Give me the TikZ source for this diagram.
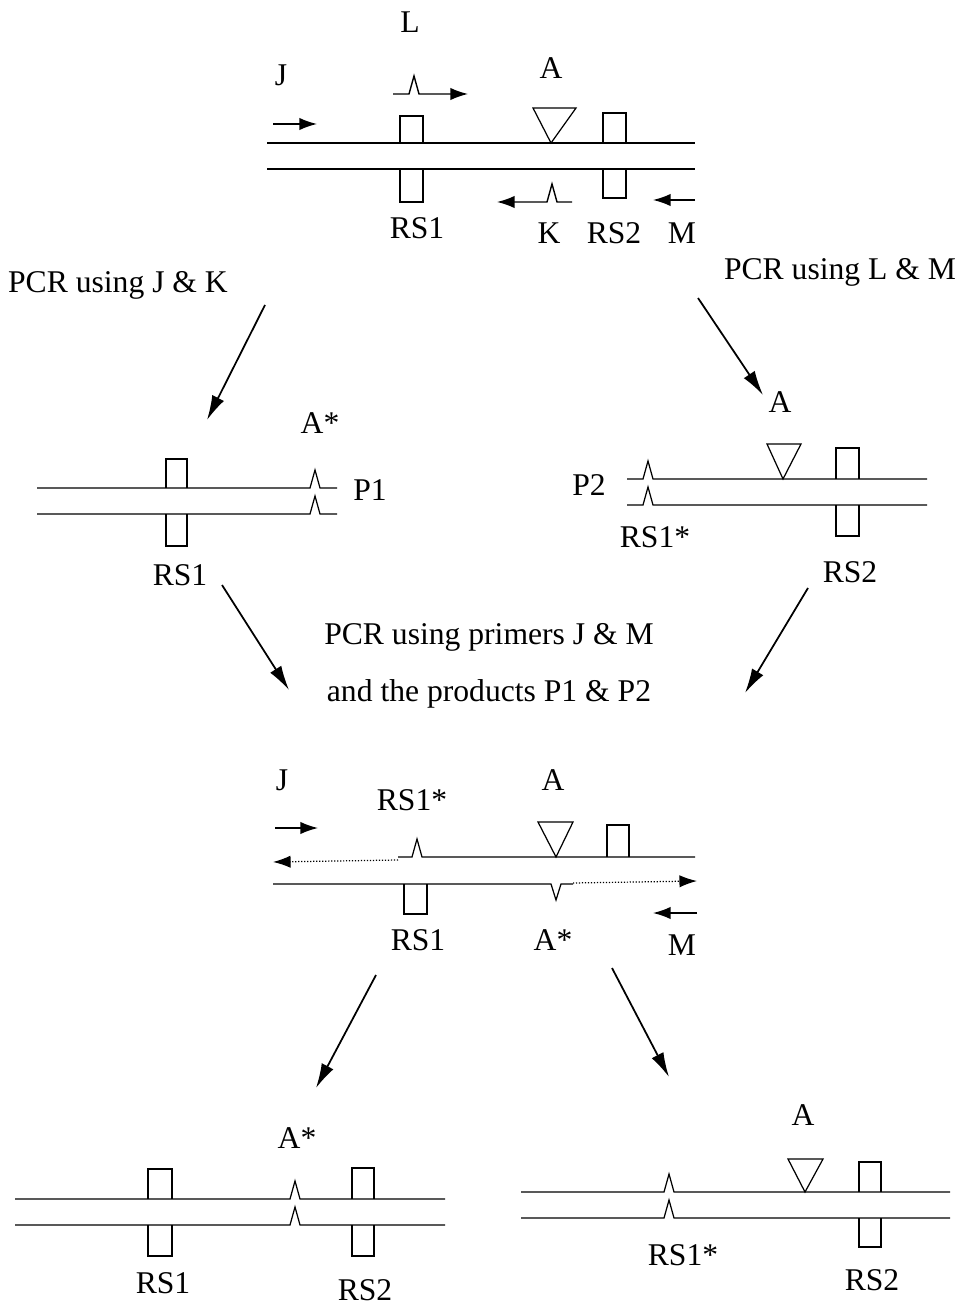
\documentclass[tikz,border=0pt]{standalone}
\usepackage{fontspec}
\setmainfont{Liberation Serif}
\usetikzlibrary{arrows.meta,positioning}

\tikzset{
  strand/.style={line width=0.7pt},
  site/.style={line width=0.7pt},
  primer/.style={line width=0.8pt,-{Latex[length=10pt,width=7pt]}},
  step arrow/.style={line width=1pt,-{Latex[length=14pt,width=7.5pt]}},
  lbl/.style={inner sep=0pt,font=\fontsize{18}{21}\selectfont}
}

\begin{document}
\begin{tikzpicture}[x=0.02cm,y=-0.02cm]
\useasboundingbox (0,0) rectangle (966,1310);

% top template
\draw[strand] (267,143) -- (695,143);
\draw[strand] (267,169) -- (695,169);
\draw[site] (400,143) -- (400,116) -- (423,116) -- (423,143);
\draw[site] (400,169) -- (400,202) -- (423,202) -- (423,169);
\draw[site] (603,143) -- (603,113) -- (626,113) -- (626,143);
\draw[site] (603,169) -- (603,198) -- (626,198) -- (626,169);
\draw[site] (551,143) -- (533,108) -- (576,108) -- cycle;
\coordinate (j1s) at (273,124); \coordinate (j1e) at (317,124);
\draw[primer] (j1s) -- (j1e);
\coordinate (ls) at (393,94); \coordinate (le) at (468,94);
\draw[primer] (ls) -- (409,94) -- (414,76) -- (419,94) -- (le);
\coordinate (ks) at (572,202); \coordinate (ke) at (497,202);
\draw[primer] (ks) -- (557,202) -- (552,184) -- (547,202) -- (ke);
\coordinate (m1s) at (695,200); \coordinate (m1e) at (653,200);
\draw[primer] (m1s) -- (m1e);
\node[lbl] (labL) at (410,22) {L};
\node[lbl] (labJ) at (281,75) {J};
\node[lbl] (labA) at (551,68) {A};
\node[lbl] (labRS1) at (417,228) {RS1};
\node[lbl] (labK) at (549,233) {K};
\node[lbl] (labRS2) at (614,233) {RS2};
\node[lbl] (labM) at (682,233) {M};

% first round of PCR
\node[lbl] (pcrjk) at (118,285) {PCR using J \& K};
\node[lbl] (pcrlm) at (840,272) {PCR using L \& M};
\coordinate (a1s) at (265,305); \coordinate (a1e) at (207,420);
\coordinate (a2s) at (698,298); \coordinate (a2e) at (763,395);
\draw[step arrow] (a1s) -- (a1e);
\draw[step arrow] (a2s) -- (a2e);

% product P1
\draw[strand] (37,488) -- (310,488) -- (315,470) -- (320,488) -- (337,488);
\draw[strand] (37,514) -- (310,514) -- (315,496) -- (320,514) -- (337,514);
\draw[site] (166,488) -- (166,459) -- (187,459) -- (187,488);
\draw[site] (166,514) -- (166,546) -- (187,546) -- (187,514);
\node[lbl] (p1A) at (320,423) {A*};
\node[lbl] (p1) at (370,490) {P1};
\node[lbl] (p1RS1) at (180,575) {RS1};

% product P2
\draw[strand] (627,479) -- (643,479) -- (648,461) -- (653,479) -- (927,479);
\draw[strand] (627,505) -- (643,505) -- (648,487) -- (653,505) -- (927,505);
\draw[site] (783,479) -- (767,444) -- (801,444) -- cycle;
\draw[site] (836,479) -- (836,448) -- (859,448) -- (859,479);
\draw[site] (836,505) -- (836,536) -- (859,536) -- (859,505);
\node[lbl] (p2A) at (780,402) {A};
\node[lbl] (p2) at (589,485) {P2};
\node[lbl] (p2RS1) at (655,537) {RS1*};
\node[lbl] (p2RS2) at (850,572) {RS2};

% second round of PCR
\node[lbl] (pcrjm) at (489,637) {PCR using primers J \& M};
\node[lbl] (prods) at (489,694) {and the products P1 \& P2};
\coordinate (a3s) at (222,585); \coordinate (a3e) at (289,690);
\coordinate (a4s) at (808,588); \coordinate (a4e) at (745,693);
\draw[step arrow] (a3s) -- (a3e);
\draw[step arrow] (a4s) -- (a4e);

% overlap extension
\draw[strand] (398,857) -- (412,857) -- (417,839) -- (422,857) -- (695,857);
\draw[strand] (273,884) -- (551,884) -- (556,900) -- (561,884) -- (573,884);
\coordinate (u3s) at (398,860); \coordinate (u3e) at (273,862);
\draw[strand,densely dotted,-{Latex[length=10pt,width=7pt]}] (u3s) -- (u3e);
\coordinate (l3s) at (573,883); \coordinate (l3e) at (697,881);
\draw[strand,densely dotted,-{Latex[length=10pt,width=7pt]}] (l3s) -- (l3e);
\draw[site] (556,857) -- (538,822) -- (573,822) -- cycle;
\draw[site] (607,857) -- (607,825) -- (629,825) -- (629,857);
\draw[site] (404,884) -- (404,914) -- (427,914) -- (427,884);
\coordinate (j3s) at (275,828); \coordinate (j3e) at (318,828);
\draw[primer] (j3s) -- (j3e);
\coordinate (m3s) at (697,913); \coordinate (m3e) at (653,913);
\draw[primer] (m3s) -- (m3e);
\node[lbl] (ovJ) at (282,780) {J};
\node[lbl] (ovRS1s) at (412,800) {RS1*};
\node[lbl] (ovA) at (553,780) {A};
\node[lbl] (ovRS1) at (418,940) {RS1};
\node[lbl] (ovAs) at (553,940) {A*};
\node[lbl] (ovM) at (682,945) {M};

\coordinate (a5s) at (376,975); \coordinate (a5e) at (316,1088);
\coordinate (a6s) at (612,968); \coordinate (a6e) at (669,1077);
\draw[step arrow] (a5s) -- (a5e);
\draw[step arrow] (a6s) -- (a6e);

% final products
\draw[strand] (15,1199) -- (290,1199) -- (295,1181) -- (300,1199) -- (445,1199);
\draw[strand] (15,1225) -- (290,1225) -- (295,1207) -- (300,1225) -- (445,1225);
\draw[site] (148,1199) -- (148,1169) -- (172,1169) -- (172,1199);
\draw[site] (148,1225) -- (148,1256) -- (172,1256) -- (172,1225);
\draw[site] (352,1199) -- (352,1168) -- (374,1168) -- (374,1199);
\draw[site] (352,1225) -- (352,1256) -- (374,1256) -- (374,1225);
\node[lbl] (f1A) at (297,1138) {A*};
\node[lbl] (f1RS1) at (163,1283) {RS1};
\node[lbl] (f1RS2) at (365,1290) {RS2};

\draw[strand] (521,1192) -- (664,1192) -- (669,1174) -- (674,1192) -- (950,1192);
\draw[strand] (521,1218) -- (664,1218) -- (669,1200) -- (674,1218) -- (950,1218);
\draw[site] (805,1192) -- (788,1159) -- (823,1159) -- cycle;
\draw[site] (859,1192) -- (859,1162) -- (881,1162) -- (881,1192);
\draw[site] (859,1218) -- (859,1247) -- (881,1247) -- (881,1218);
\node[lbl] (f2A) at (803,1115) {A};
\node[lbl] (f2RS1) at (683,1255) {RS1*};
\node[lbl] (f2RS2) at (872,1280) {RS2};
\end{tikzpicture}
\end{document}
